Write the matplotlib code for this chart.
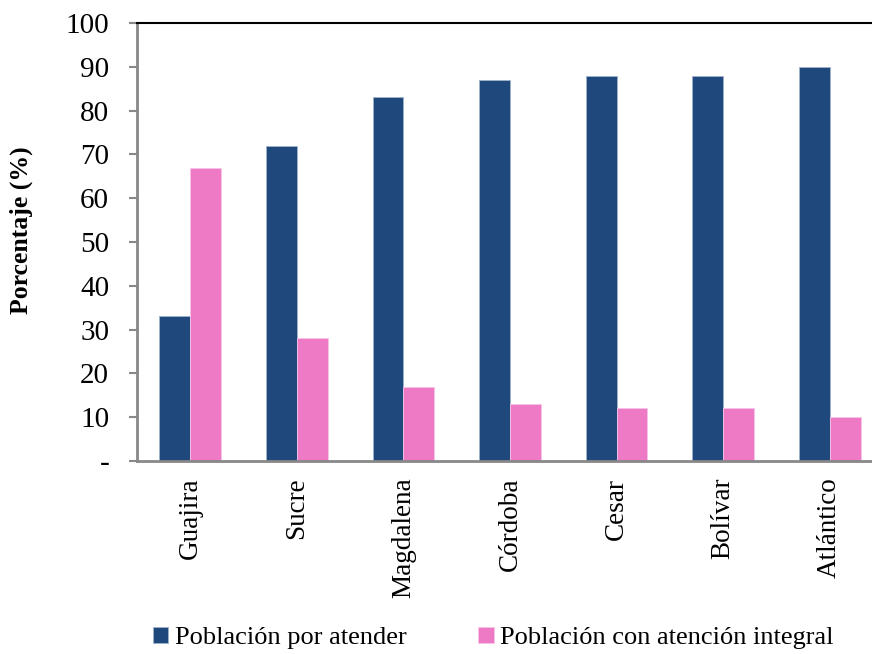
import matplotlib
matplotlib.use("Agg")
import matplotlib.pyplot as plt
import numpy as np
from matplotlib.ticker import FixedLocator, FuncFormatter

categories = ["Guajira", "Sucre", "Magdalena", "Córdoba", "Cesar", "Bolívar", "Atlántico"]
por_atender = [33, 72, 83, 87, 88, 88, 90]
atencion_integral = [67, 28, 17, 13, 12, 12, 10]
series_names = ["Población por atender", "Población con atención integral"]
yticks = [0, 10, 20, 30, 40, 50, 60, 70, 80, 90, 100]

plt.rcParams['font.family'] = ['Liberation Serif', 'DejaVu Serif']

fig = plt.figure(figsize=(8.72, 6.54), dpi=100)
ax = fig.add_axes([137/872, 1-461/654, 746/872, 438/654])

x = np.arange(len(categories))
w = 0.29
blue = "#1F497D"
pink = "#EE7AC6"
b1 = ax.bar(x - w/2, por_atender, w, color=blue, edgecolor="#9FB3CC", linewidth=0.6, label=series_names[0])
b2 = ax.bar(x + w/2, atencion_integral, w, color=pink, edgecolor="#F8C4E6", linewidth=0.6, label=series_names[1])

ax.set_xlim(-0.5, len(categories) - 0.5)
ax.set_ylim(0, 100)
ax.yaxis.set_major_locator(FixedLocator(yticks))
ax.yaxis.set_major_formatter(FuncFormatter(lambda v, p: "-" if v == 0 else f"{int(v)}"))
ax.set_xticks(x)
ax.set_xticklabels(categories, rotation=90, fontsize=19.5)
ax.tick_params(axis='x', length=0, pad=12)
ax.tick_params(axis='y', direction='out', length=6, width=1.5, color="#888888", labelsize=21, pad=14)

for s in ['left', 'bottom']:
    ax.spines[s].set_color("#888888")
    ax.spines[s].set_linewidth(2)
ax.spines['top'].set_color("black")
ax.spines['top'].set_linewidth(1.5)
ax.spines['right'].set_visible(False)

ax.set_ylabel("Porcentaje (%)", fontsize=18.5, fontweight='bold')
ax.yaxis.set_label_coords((33 - 137) / 746, (461 - 230) / 438)

fig.legend(handles=[b1, b2], labels=series_names, loc='center left',
           bbox_to_anchor=(142/872, 1 - 638/654), ncol=2, frameon=False, fontsize=19,
           handlelength=0.6, handleheight=0.6, handletextpad=0.25, columnspacing=2.7,
           borderaxespad=0)

fig.savefig("out.png", dpi=100)
